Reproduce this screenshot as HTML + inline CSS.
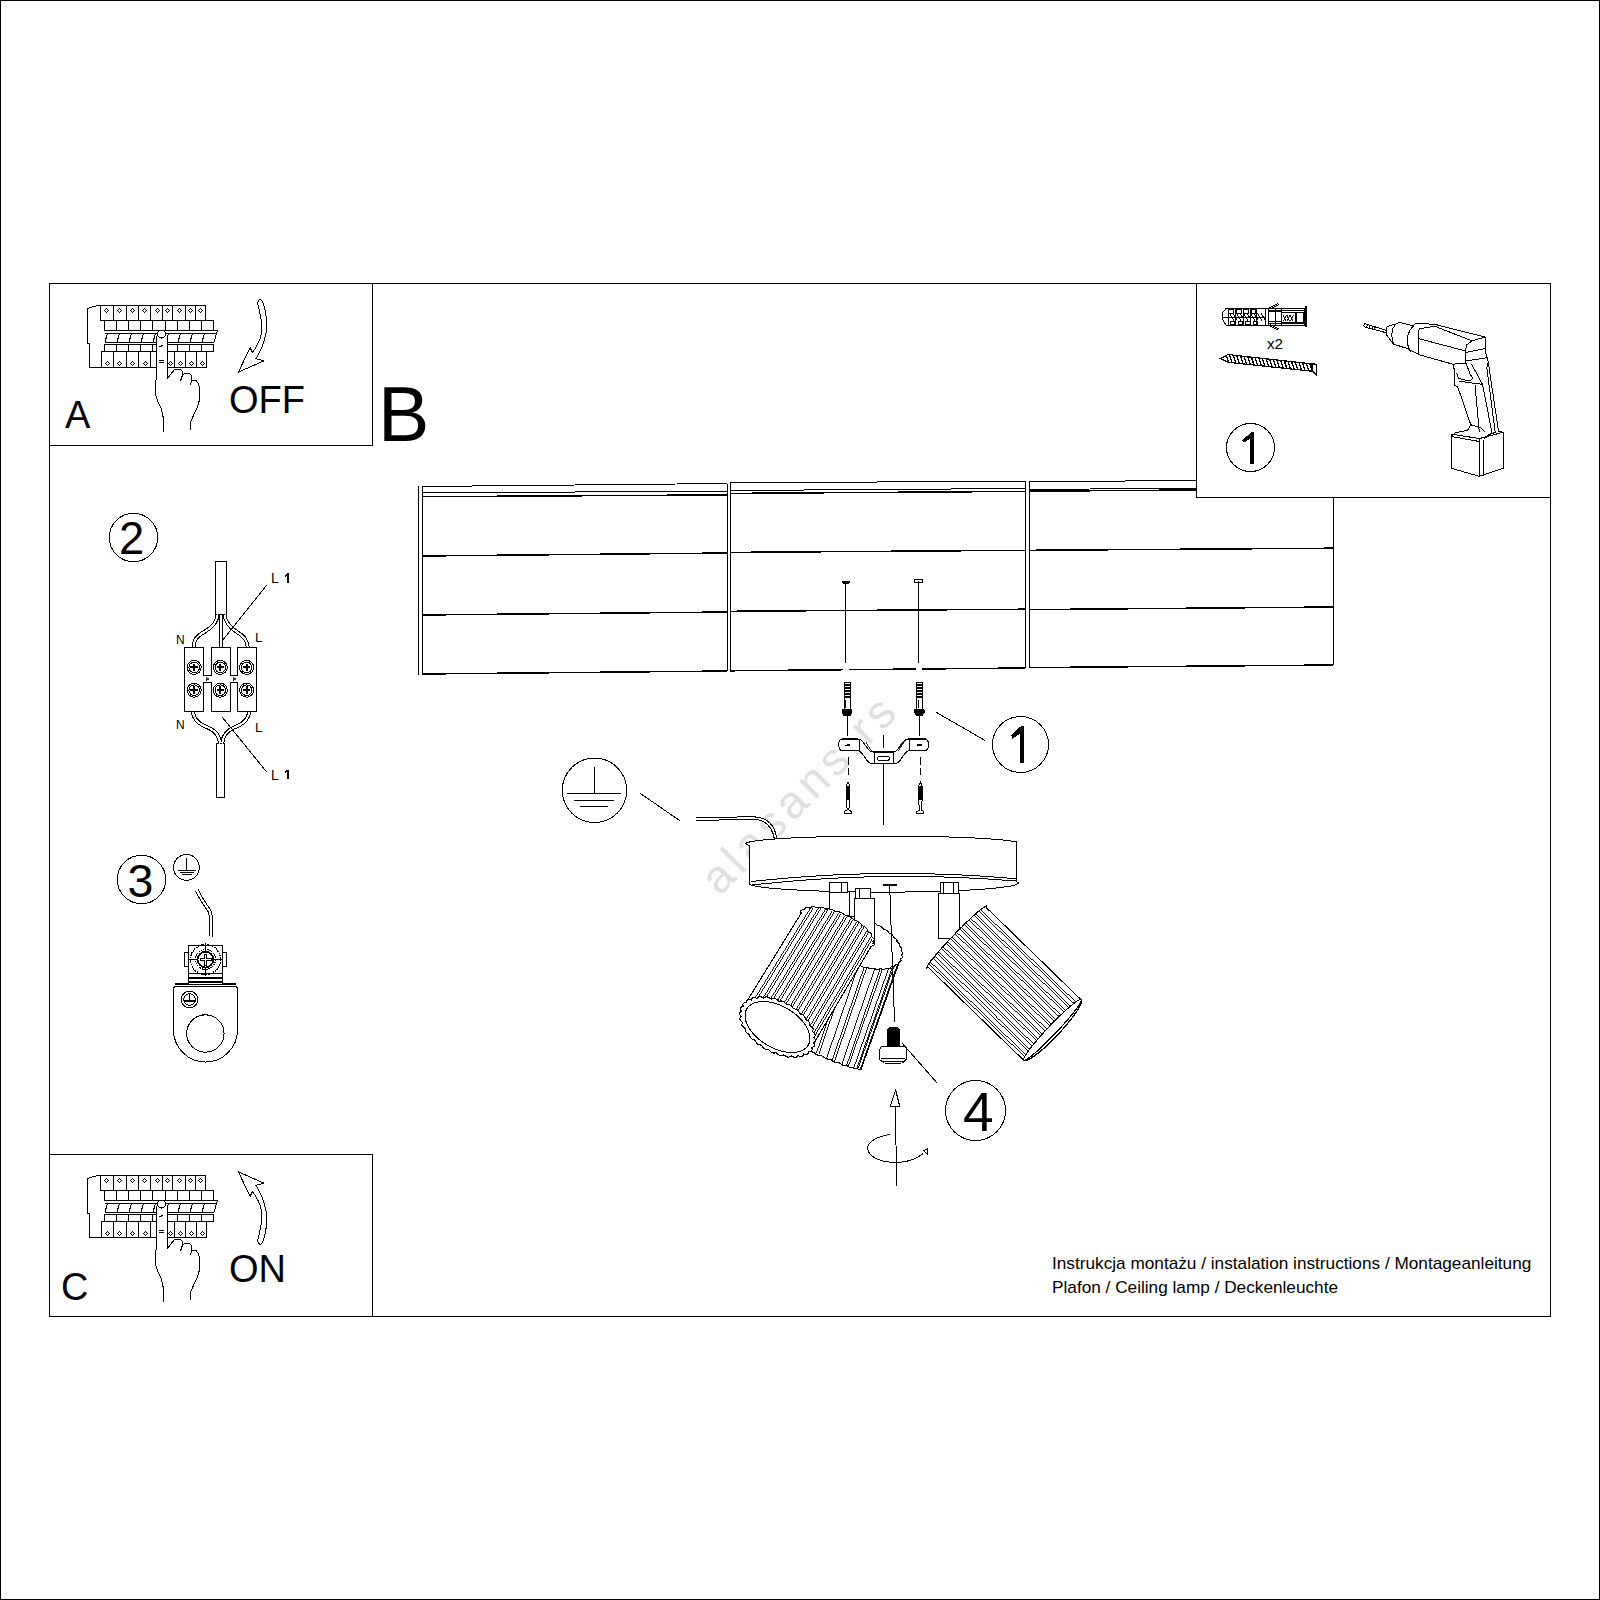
<!DOCTYPE html>
<html><head><meta charset="utf-8"><title>Instrukcja montażu / installation instructions</title>
<style>
html,body{margin:0;padding:0;background:#fff;}
body{width:1600px;height:1600px;overflow:hidden;}
svg{display:block;font-family:"Liberation Sans",sans-serif;}
</style></head>
<body>
<svg width="1600" height="1600" viewBox="0 0 1600 1600" shape-rendering="crispEdges">
<rect x="0" y="0" width="1600" height="1600" fill="#fff"/>
<text x="0" y="0" font-size="46" fill="#e0e0e0" letter-spacing="5" transform="translate(719.7,896.8) rotate(-45.4)">alasans.rs</text>
<g fill="none" stroke="#000" stroke-width="1">
<rect x="0.5" y="0.5" width="1599" height="1599"/>
<rect x="49.5" y="283.5" width="1501" height="1033"/>
<rect x="49.5" y="283.5" width="323" height="162"/>
<rect x="49.5" y="1154.5" width="323" height="162"/>
<rect x="1196.5" y="283.5" width="354" height="214"/>
</g>
<g fill="none" stroke="#000" stroke-width="1">
<line x1="422.5" y1="486.5" x2="727.5" y2="483.5"/>
<line x1="422.5" y1="493" x2="727.5" y2="491"/>
<line x1="422.5" y1="496.7" x2="727.5" y2="494.9" stroke-width="1.5"/>
<line x1="422.5" y1="556" x2="727.5" y2="553" stroke-width="1.5"/>
<line x1="422.5" y1="615" x2="727.5" y2="612" stroke-width="1.5"/>
<line x1="422.5" y1="674" x2="727.5" y2="671" stroke-width="1.5"/>
<line x1="422.5" y1="486.5" x2="422.5" y2="674"/>
<line x1="727.5" y1="483.5" x2="727.5" y2="671"/>
<line x1="730.5" y1="483" x2="1025.5" y2="481"/>
<line x1="730.5" y1="490.5" x2="1025.5" y2="488.5"/>
<line x1="730.5" y1="493.4" x2="1025.5" y2="491.4" stroke-width="1.5"/>
<line x1="730.5" y1="552.4" x2="1025.5" y2="550.3" stroke-width="1.5"/>
<line x1="730.5" y1="611.3" x2="1025.5" y2="609.2" stroke-width="1.5"/>
<line x1="730.5" y1="670.8" x2="1025.5" y2="668" stroke-width="1.5"/>
<line x1="730.5" y1="483" x2="730.5" y2="670.8"/>
<line x1="1025.5" y1="481" x2="1025.5" y2="668"/>
<line x1="1029.5" y1="481.7" x2="1333.5" y2="479.5"/>
<line x1="1029.5" y1="489.5" x2="1333.5" y2="487"/>
<line x1="1029.5" y1="491.2" x2="1333.5" y2="489" stroke-width="1.5"/>
<line x1="1029.5" y1="550.3" x2="1333.5" y2="548.2" stroke-width="1.5"/>
<line x1="1029.5" y1="609.6" x2="1333.5" y2="607" stroke-width="1.5"/>
<line x1="1029.5" y1="667.6" x2="1333.5" y2="665" stroke-width="1.5"/>
<line x1="1029.5" y1="481.7" x2="1029.5" y2="667.6"/>
<line x1="1333.5" y1="479.5" x2="1333.5" y2="665"/>
<line x1="418.5" y1="486" x2="418.5" y2="675"/>
<rect x="842.5" y="665" width="6" height="8" fill="#fff" stroke="none"/>
<rect x="915.5" y="664" width="6.5" height="8" fill="#fff" stroke="none"/>
<line x1="845.8" y1="582" x2="845.8" y2="663.4"/>
<line x1="918.7" y1="581" x2="918.7" y2="663"/>
<polygon points="842,581 850,581 849,583 843,583" fill="#000"/>
<rect x="914.5" y="579.8" width="8" height="2.2"/>
</g>
<rect x="1196.5" y="283.5" width="354" height="214" fill="#fff" stroke="#000"/>
<g fill="none" stroke="#000" stroke-width="1">
<polygon points="1226,308.5 1304.5,308.5 1304.5,325 1226,325 1222.8,320 1222.8,312.5" fill="#fff"/>
<line x1="1222.8" y1="317" x2="1266" y2="317"/>
<line x1="1228.8" y1="308.5" x2="1228.8" y2="325"/>
<line x1="1235.6" y1="308.5" x2="1235.6" y2="325"/>
<line x1="1243.2" y1="308.5" x2="1243.2" y2="325"/>
<line x1="1250.8" y1="308.5" x2="1250.8" y2="325"/>
<line x1="1256.3" y1="308.5" x2="1256.3" y2="325"/>
<line x1="1265.2" y1="308.5" x2="1265.2" y2="325"/>
<line x1="1268" y1="308.5" x2="1268" y2="325"/>
<line x1="1275.5" y1="308.5" x2="1275.5" y2="325"/>
<line x1="1281" y1="308.5" x2="1281" y2="325"/>
<rect x="1228.8" y="309.5" width="4.2" height="3.5"/>
<rect x="1230.8" y="321" width="3.7" height="3"/>
<rect x="1236" y="309.5" width="5" height="3.5"/>
<rect x="1238" y="321" width="4.5" height="3"/>
<rect x="1243.5" y="309.5" width="5" height="3.5"/>
<rect x="1245.5" y="321" width="4.5" height="3"/>
<rect x="1251" y="309.5" width="4.5" height="3.5"/>
<rect x="1253" y="321" width="4" height="3"/>
<line x1="1229.5" y1="313.5" x2="1234" y2="320.5"/>
<line x1="1233" y1="313.5" x2="1237.5" y2="320.5"/>
<line x1="1236.5" y1="313.5" x2="1241" y2="320.5"/>
<line x1="1240" y1="313.5" x2="1244.5" y2="320.5"/>
<line x1="1243.5" y1="313.5" x2="1248" y2="320.5"/>
<line x1="1247" y1="313.5" x2="1251.5" y2="320.5"/>
<line x1="1250.5" y1="313.5" x2="1255" y2="320.5"/>
<line x1="1254" y1="313.5" x2="1258.5" y2="320.5"/>
<line x1="1257.5" y1="313.5" x2="1262" y2="320.5"/>
<line x1="1261" y1="313.5" x2="1265.5" y2="320.5"/>
<line x1="1268" y1="310.3" x2="1304.5" y2="310.3"/>
<line x1="1268" y1="323.3" x2="1304.5" y2="323.3"/>
<line x1="1268" y1="311.8" x2="1281" y2="311.8"/>
<line x1="1268" y1="321.8" x2="1281" y2="321.8"/>
<rect x="1281.5" y="312.5" width="14.5" height="10" stroke-width="1.3"/>
<line x1="1283.5" y1="314.5" x2="1286" y2="320.5" stroke-width="0.9"/>
<line x1="1286" y1="314.5" x2="1283.5" y2="320.5" stroke-width="0.9"/>
<line x1="1287" y1="314.5" x2="1289.5" y2="320.5" stroke-width="0.9"/>
<line x1="1289.5" y1="314.5" x2="1287" y2="320.5" stroke-width="0.9"/>
<line x1="1290.5" y1="314.5" x2="1293" y2="320.5" stroke-width="0.9"/>
<line x1="1293" y1="314.5" x2="1290.5" y2="320.5" stroke-width="0.9"/>
<rect x="1296" y="312" width="7" height="10.5"/>
<line x1="1305.5" y1="306.3" x2="1305.5" y2="326.8" stroke-width="2"/>
<line x1="1268" y1="308.5" x2="1278" y2="303.5" stroke-width="1.2"/>
<line x1="1270" y1="309" x2="1279" y2="304.5"/>
<line x1="1268" y1="325" x2="1278" y2="330" stroke-width="1.2"/>
<line x1="1270" y1="324.5" x2="1279" y2="329"/>
<polygon points="1220.5,358.6 1228,354.5 1313,364 1316.4,364.2 1316.4,374.8 1313,371.3 1228,362.3" stroke-width="1.2"/>
<line x1="1226" y1="354.69" x2="1228.3" y2="361.89" stroke-width="1.3"/>
<line x1="1229.65" y1="355.1" x2="1231.95" y2="362.28" stroke-width="1.3"/>
<line x1="1233.3" y1="355.5" x2="1235.6" y2="362.67" stroke-width="1.3"/>
<line x1="1236.95" y1="355.91" x2="1239.25" y2="363.05" stroke-width="1.3"/>
<line x1="1240.6" y1="356.32" x2="1242.9" y2="363.44" stroke-width="1.3"/>
<line x1="1244.25" y1="356.73" x2="1246.55" y2="363.83" stroke-width="1.3"/>
<line x1="1247.9" y1="357.14" x2="1250.2" y2="364.21" stroke-width="1.3"/>
<line x1="1251.55" y1="357.54" x2="1253.85" y2="364.6" stroke-width="1.3"/>
<line x1="1255.2" y1="357.95" x2="1257.5" y2="364.99" stroke-width="1.3"/>
<line x1="1258.85" y1="358.36" x2="1261.15" y2="365.37" stroke-width="1.3"/>
<line x1="1262.5" y1="358.77" x2="1264.8" y2="365.76" stroke-width="1.3"/>
<line x1="1266.15" y1="359.18" x2="1268.45" y2="366.15" stroke-width="1.3"/>
<line x1="1269.8" y1="359.58" x2="1272.1" y2="366.53" stroke-width="1.3"/>
<line x1="1273.45" y1="359.99" x2="1275.75" y2="366.92" stroke-width="1.3"/>
<line x1="1277.1" y1="360.4" x2="1279.4" y2="367.3" stroke-width="1.3"/>
<line x1="1280.75" y1="360.81" x2="1283.05" y2="367.69" stroke-width="1.3"/>
<line x1="1284.4" y1="361.22" x2="1286.7" y2="368.08" stroke-width="1.3"/>
<line x1="1288.05" y1="361.62" x2="1290.35" y2="368.46" stroke-width="1.3"/>
<line x1="1291.7" y1="362.03" x2="1294" y2="368.85" stroke-width="1.3"/>
<line x1="1295.35" y1="362.44" x2="1297.65" y2="369.24" stroke-width="1.3"/>
<line x1="1299" y1="362.85" x2="1301.3" y2="369.62" stroke-width="1.3"/>
<line x1="1302.65" y1="363.25" x2="1304.95" y2="370.01" stroke-width="1.3"/>
<line x1="1306.3" y1="363.66" x2="1308.6" y2="370.4" stroke-width="1.3"/>
<line x1="1309.95" y1="364.07" x2="1312.25" y2="370.78" stroke-width="1.3"/>
<line x1="1312" y1="364" x2="1312" y2="371.3" stroke-width="1.4"/>
<polyline points="1364.6,323.5 1385.8,330.3"/>
<polyline points="1364.6,327 1385.8,332.6"/>
<polyline points="1364.6,323.5 1363.8,325.2 1364.6,327"/>
<polyline points="1367.2,324.2 1366.8,327.6"/>
<polyline points="1369.8,325 1369.4,328.3"/>
<polyline points="1372.4,325.8 1372,329"/>
<polyline points="1375,326.6 1374.6,329.7"/>
<polyline points="1386.9,327.2 1386.9,335.5"/>
<polyline points="1386.9,327.2 1390,325.4 1395.4,324.2 1399.6,322.3 1413.4,326"/>
<polyline points="1386.9,335.5 1390.5,340 1393.3,344 1408.1,348.8"/>
<polyline points="1395.4,324.6 1392.6,329 1391.7,335.5 1393.3,344"/>
<polyline points="1415.6,323.3 1410,330 1407.1,337.6 1407.8,345 1410.3,352"/>
<polyline points="1415.6,323.3 1434.7,324.3 1485.2,337.1"/>
<polyline points="1418.8,330.7 1420,328.6 1434.7,326.2 1471.9,340.8 1485.2,337.1"/>
<polyline points="1418.8,330.7 1418.8,354.6"/>
<polyline points="1418.8,338.7 1465.5,350.9"/>
<polyline points="1408.1,348.8 1418.8,354.6"/>
<polyline points="1418.8,354.6 1452.8,364.2 1465.5,363.1"/>
<polyline points="1471.9,340.8 1466.6,345 1465.5,350.9 1465.5,363.1"/>
<polyline points="1485.2,337.1 1485.2,351.4 1488.4,362.1"/>
<polyline points="1465.5,352.5 1485.2,348.5"/>
<polyline points="1466,361 1488.4,357.5"/>
<polyline points="1452.8,364.2 1454.9,371.6 1454.9,385.5 1457.6,386.5 1470.8,424.8 1467.6,430.1 1455,433 1451.2,436"/>
<polyline points="1456.5,373 1458.8,378.5 1469.8,381 1472.8,378"/>
<polyline points="1466,363.1 1470.5,375 1472.8,378"/>
<polyline points="1459.1,381.2 1482.5,384.4"/>
<polyline points="1471.5,364 1482.5,384.4"/>
<polyline points="1475.1,385.5 1479.3,432.2"/>
<polyline points="1482.5,384.4 1492.1,433.3"/>
<polyline points="1488.4,362.1 1486.8,367.4 1495.3,433.3"/>
<polyline points="1488.4,362.1 1489,367.4 1498.5,431.1 1503.2,432.2"/>
<polyline points="1451.2,436 1451.2,468.3 1479.3,476.3 1503.2,468.3 1503.2,432.2"/>
<polyline points="1451.2,434 1479.3,438.6 1503.2,432.2"/>
<polyline points="1451.2,436.5 1479.3,441.5"/>
<polyline points="1479.3,438.6 1479.3,476.3"/>
<polyline points="1483.6,439.6 1483.6,475.5"/>
<polyline points="1483.6,439.6 1489,434.5 1495,432.5"/>
<polyline points="1470.8,424.8 1480,427.3 1485,432"/>
</g>
<g id="panel" fill="none" stroke="#000" stroke-width="1">
<polyline points="100.5,305.5 98.5,305.5 90,307.5 87.5,308.5 87.5,343 89.5,344 89.5,367.5 101.5,367.5"/>
<rect x="100.5" y="305.5" width="105" height="14.5"/>
<line x1="113.5" y1="305.5" x2="113.5" y2="320"/>
<line x1="126.5" y1="305.5" x2="126.5" y2="320"/>
<line x1="138.5" y1="305.5" x2="138.5" y2="320"/>
<line x1="150.5" y1="305.5" x2="150.5" y2="320"/>
<line x1="162.5" y1="305.5" x2="162.5" y2="320"/>
<line x1="172.5" y1="305.5" x2="172.5" y2="320"/>
<line x1="185.5" y1="305.5" x2="185.5" y2="320"/>
<line x1="195.5" y1="305.5" x2="195.5" y2="320"/>
<polygon points="106.5,308.5 108.5,310.5 106.5,312.5 104.5,310.5"/>
<polygon points="119.5,308.5 121.5,310.5 119.5,312.5 117.5,310.5"/>
<polygon points="132.5,308.5 134.5,310.5 132.5,312.5 130.5,310.5"/>
<polygon points="144.5,308.5 146.5,310.5 144.5,312.5 142.5,310.5"/>
<polygon points="157.5,308.5 159.5,310.5 157.5,312.5 155.5,310.5"/>
<polygon points="167.5,308.5 169.5,310.5 167.5,312.5 165.5,310.5"/>
<polygon points="179.5,308.5 181.5,310.5 179.5,312.5 177.5,310.5"/>
<polygon points="190.5,308.5 192.5,310.5 190.5,312.5 188.5,310.5"/>
<polygon points="200.5,308.5 202.5,310.5 200.5,312.5 198.5,310.5"/>
<rect x="104.5" y="320" width="109" height="10.5"/>
<line x1="116.5" y1="320" x2="116.5" y2="330.5"/>
<line x1="128.5" y1="320" x2="128.5" y2="330.5"/>
<line x1="140.5" y1="320" x2="140.5" y2="330.5"/>
<line x1="152.5" y1="320" x2="152.5" y2="330.5"/>
<line x1="165.5" y1="320" x2="165.5" y2="330.5"/>
<line x1="177.5" y1="320" x2="177.5" y2="330.5"/>
<line x1="189.5" y1="320" x2="189.5" y2="330.5"/>
<line x1="201.5" y1="320" x2="201.5" y2="330.5"/>
<polyline points="104.5,330.5 217.5,330.5 214,342 104.5,342"/>
<line x1="104.5" y1="333.5" x2="217" y2="333.5"/>
<line x1="105" y1="342" x2="107.5" y2="333.5"/>
<line x1="117" y1="342" x2="119.5" y2="333.5"/>
<line x1="129" y1="342" x2="131.5" y2="333.5"/>
<line x1="141" y1="342" x2="143.5" y2="333.5"/>
<line x1="153" y1="342" x2="155.5" y2="333.5"/>
<line x1="166" y1="342" x2="168.5" y2="333.5"/>
<line x1="178" y1="342" x2="180.5" y2="333.5"/>
<line x1="190" y1="342" x2="192.5" y2="333.5"/>
<line x1="202" y1="342" x2="204.5" y2="333.5"/>
<line x1="104.5" y1="344.5" x2="213.5" y2="344.5"/>
<rect x="104.5" y="344.5" width="109" height="6.5"/>
<line x1="116.5" y1="344.5" x2="116.5" y2="351"/>
<line x1="128.5" y1="344.5" x2="128.5" y2="351"/>
<line x1="140.5" y1="344.5" x2="140.5" y2="351"/>
<line x1="152.5" y1="344.5" x2="152.5" y2="351"/>
<line x1="165.5" y1="344.5" x2="165.5" y2="351"/>
<line x1="177.5" y1="344.5" x2="177.5" y2="351"/>
<line x1="189.5" y1="344.5" x2="189.5" y2="351"/>
<line x1="201.5" y1="344.5" x2="201.5" y2="351"/>
<rect x="101.5" y="351" width="105" height="16.5"/>
<line x1="113.5" y1="351" x2="113.5" y2="367.5"/>
<line x1="126.5" y1="351" x2="126.5" y2="367.5"/>
<line x1="138.5" y1="351" x2="138.5" y2="367.5"/>
<line x1="150.5" y1="351" x2="150.5" y2="367.5"/>
<line x1="167.5" y1="351" x2="167.5" y2="367.5"/>
<line x1="174.5" y1="351" x2="174.5" y2="367.5"/>
<line x1="185.5" y1="351" x2="185.5" y2="367.5"/>
<line x1="196.5" y1="351" x2="196.5" y2="367.5"/>
<polygon points="107.5,361.5 109.5,363.5 107.5,365.5 105.5,363.5"/>
<polygon points="119.5,361.5 121.5,363.5 119.5,365.5 117.5,363.5"/>
<polygon points="132.5,361.5 134.5,363.5 132.5,365.5 130.5,363.5"/>
<polygon points="145.5,361.5 147.5,363.5 145.5,365.5 143.5,363.5"/>
<polygon points="170.5,361.5 172.5,363.5 170.5,365.5 168.5,363.5"/>
<polygon points="180.5,361.5 182.5,363.5 180.5,365.5 178.5,363.5"/>
<polygon points="191.5,361.5 193.5,363.5 191.5,365.5 189.5,363.5"/>
<polygon points="202.5,361.5 204.5,363.5 202.5,365.5 200.5,363.5"/>
<path d="M156.5,336 L156.5,379 L155.5,381 L155.5,394 L158,402 L161.5,409 L163.5,419 L163.5,432 L190.5,432 L190,428 L192.5,418 L197,408 L199.5,400 L199.5,388 L198.5,383.5 L196,380.5 L192,380 L191.5,375.5 L189,373 L185,373 L182.5,375 L182,371 L180,369 L175,369 L170.5,374 L167,379 L167,336 Z" fill="#fff" stroke="none"/>
<path d="M156.5,336 L156.5,379 L155.5,381 L155.5,394 L158,402 L161.5,409 L163.5,419 L163.5,432"/>
<path d="M167,336 L167,379 L170.5,374.5 L175,369 L180,369 L182,371 L182.5,375 L180.5,381"/>
<path d="M182.5,375.5 L185,373 L189,373 L191.5,375.5 L191.5,381 L190.5,385.5"/>
<path d="M192,380.5 L196,380.5 L198.5,383.5 L199.5,388 L199.5,400 L197,408 L192.5,417.5 L190,424 L190.5,430"/>
<circle cx="161.5" cy="334" r="4" fill="#fff"/>
<line x1="159.5" y1="346.5" x2="163.5" y2="345.5"/>
<line x1="158.5" y1="360.5" x2="163.5" y2="360.5"/>
<line x1="158.5" y1="362.5" x2="163.5" y2="362.5"/>
</g>
<path d="M260.4,299.6 C257.3,300 257.6,303.2 258.1,305.7 C260.8,315.5 262.4,325.5 261.5,333 C260.3,341 256.5,347 252.3,352.6 L250.2,347.4 L238.4,372.1 L263.7,360.9 L256,358.6 C260.2,352 264.2,343.5 266,333 C267.4,322 266,310.5 262.6,301.6 C262,300.2 261.4,299.6 260.4,299.6 Z" fill="none" stroke="#000" stroke-width="1"/>
<use href="#panel" transform="translate(0,870)"/>
<path d="M260.4,299.6 C257.3,300 257.6,303.2 258.1,305.7 C260.8,315.5 262.4,325.5 261.5,333 C260.3,341 256.5,347 252.3,352.6 L250.2,347.4 L238.4,372.1 L263.7,360.9 L256,358.6 C260.2,352 264.2,343.5 266,333 C267.4,322 266,310.5 262.6,301.6 C262,300.2 261.4,299.6 260.4,299.6 Z" fill="none" stroke="#000" stroke-width="1" transform="translate(0,1544) scale(1,-1)"/>
<g fill="#000">
<text x="65" y="428" font-size="38">A</text>
<text x="229" y="413" font-size="38">OFF</text>
<text x="378" y="441" font-size="77">B</text>
<text x="61" y="1300" font-size="38">C</text>
<text x="229" y="1282" font-size="38">ON</text>
<text x="119" y="554" font-size="45.4">2</text>
<text x="127.5" y="896.5" font-size="46.5">3</text>
<text x="963" y="1131" font-size="55">4</text>
<text x="1267" y="349" font-size="15.2">x2</text>
<text x="176" y="644" font-size="12">N</text>
<text x="255" y="642" font-size="13.5">L</text>
<text x="271" y="583" font-size="13.8">L</text>
<path d="M284.8,575.5 L287.3,573.2 L288.5,573.2 L288.5,582.8 L287.2,582.8 L287.2,575.3 L285.3,576.7 Z"/>
<text x="176" y="728.6" font-size="12">N</text>
<text x="255" y="731.8" font-size="13.5">L</text>
<text x="271" y="779.6" font-size="13.8">L</text>
<path d="M284.8,771.8 L287.3,769.5 L288.5,769.5 L288.5,779.1 L287.2,779.1 L287.2,771.6 L285.3,773 Z"/>
<text x="0" y="0" font-size="15.8" transform="translate(1052,1269) scale(1.09,1)">Instrukcja montażu / instalation instructions / Montageanleitung</text>
<text x="0" y="0" font-size="15.8" transform="translate(1052,1292.6) scale(1.09,1)">Plafon / Ceiling lamp / Deckenleuchte</text>
<path d="M1242,440.5 L1251.5,432 L1254,432 L1254,463.8 L1250,463.8 L1250,438.8 L1244,442.8 Z"/>
<path d="M1011,735.4 L1021.1,726 L1024,726 L1024,763 L1020,763 L1020,733.9 L1012.5,738.7 Z"/>
</g>
<g fill="none" stroke="#000" stroke-width="1">
<circle cx="1250.5" cy="447.5" r="24"/>
<circle cx="133.5" cy="537.5" r="24.2"/>
<circle cx="141.5" cy="879.5" r="24.2"/>
<circle cx="1020.5" cy="744.5" r="28"/>
<circle cx="975.5" cy="1110.5" r="30"/>
</g>
<g fill="none" stroke="#000" stroke-width="1">
<rect x="215.5" y="561.5" width="11" height="53"/>
<rect x="216.5" y="743.5" width="8" height="54"/>
<path d="M217.6,614.5 C217,622 213,627 205,631.5 C197,636 193.5,640 193.8,647.5" stroke-width="4"/>
<path d="M224.6,614.5 C225.2,622 229,627 237,632 C245,636.5 247.6,641 247.7,647.5" stroke-width="4"/>
<path d="M221,614.5 L221,647.5" stroke-width="4"/>
<path d="M192.9,711.5 C194,720 199,724 208,727.5 C216,731 219.5,736 220.2,743.5" stroke-width="4"/>
<path d="M249.3,711.5 C248,720 243,724 234,727.5 C226,731 222.8,736 222.3,743.5" stroke-width="4"/>
<path d="M217.6,614.5 C217,622 213,627 205,631.5 C197,636 193.5,640 193.8,647.5" stroke="#fff" stroke-width="2"/>
<path d="M224.6,614.5 C225.2,622 229,627 237,632 C245,636.5 247.6,641 247.7,647.5" stroke="#fff" stroke-width="2"/>
<path d="M221,614.5 L221,647.5" stroke="#fff" stroke-width="2"/>
<path d="M192.9,711.5 C194,720 199,724 208,727.5 C216,731 219.5,736 220.2,743.5" stroke="#fff" stroke-width="2"/>
<path d="M249.3,711.5 C248,720 243,724 234,727.5 C226,731 222.8,736 222.3,743.5" stroke="#fff" stroke-width="2"/>
<line x1="266.9" y1="584.9" x2="223.1" y2="639.6"/>
<line x1="222.1" y1="717" x2="266.8" y2="772.2"/>
<rect x="184.5" y="647.5" width="19" height="64" fill="#fff"/>
<rect x="211.5" y="647.5" width="19" height="64" fill="#fff"/>
<rect x="237.5" y="647.5" width="19" height="64" fill="#fff"/>
<rect x="202.8" y="676" width="9.4" height="6" fill="#fff" stroke="none"/>
<line x1="203.5" y1="675.5" x2="211.5" y2="675.5"/>
<line x1="203.5" y1="682.5" x2="211.5" y2="682.5"/>
<polygon points="206,677.5 208.5,679 206,680.5" stroke-width="0.8"/>
<rect x="229.8" y="676" width="8.4" height="6" fill="#fff" stroke="none"/>
<line x1="230.5" y1="675.5" x2="237.5" y2="675.5"/>
<line x1="230.5" y1="682.5" x2="237.5" y2="682.5"/>
<polygon points="233,677.5 235.5,679 233,680.5" stroke-width="0.8"/>
<circle cx="194.2" cy="667.4" r="7"/>
<circle cx="194.2" cy="667.4" r="5.3"/>
<line x1="190.4" y1="667.4" x2="198" y2="667.4" stroke-width="2"/>
<line x1="194.2" y1="663.6" x2="194.2" y2="671.2" stroke-width="2"/>
<circle cx="220.3" cy="667.4" r="7"/>
<circle cx="220.3" cy="667.4" r="5.3"/>
<line x1="216.5" y1="667.4" x2="224.1" y2="667.4" stroke-width="2"/>
<line x1="220.3" y1="663.6" x2="220.3" y2="671.2" stroke-width="2"/>
<circle cx="246.6" cy="667.4" r="7"/>
<circle cx="246.6" cy="667.4" r="5.3"/>
<line x1="242.8" y1="667.4" x2="250.4" y2="667.4" stroke-width="2"/>
<line x1="246.6" y1="663.6" x2="246.6" y2="671.2" stroke-width="2"/>
<circle cx="194.2" cy="690.2" r="7"/>
<circle cx="194.2" cy="690.2" r="5.3"/>
<line x1="190.4" y1="690.2" x2="198" y2="690.2" stroke-width="2"/>
<line x1="194.2" y1="686.4" x2="194.2" y2="694" stroke-width="2"/>
<circle cx="220.3" cy="690.2" r="7"/>
<circle cx="220.3" cy="690.2" r="5.3"/>
<line x1="216.5" y1="690.2" x2="224.1" y2="690.2" stroke-width="2"/>
<line x1="220.3" y1="686.4" x2="220.3" y2="694" stroke-width="2"/>
<circle cx="246.6" cy="690.2" r="7"/>
<circle cx="246.6" cy="690.2" r="5.3"/>
<line x1="242.8" y1="690.2" x2="250.4" y2="690.2" stroke-width="2"/>
<line x1="246.6" y1="686.4" x2="246.6" y2="694" stroke-width="2"/>
</g>
<g fill="none" stroke="#000" stroke-width="1">
<circle cx="186.4" cy="867.4" r="12.9"/>
<line x1="186.5" y1="858" x2="186.5" y2="870.75"/>
<line x1="177.7" y1="870.75" x2="196" y2="870.75"/>
<line x1="179.5" y1="872.75" x2="193.75" y2="872.75"/>
<line x1="181.75" y1="874.8" x2="191.5" y2="874.8"/>
<path d="M196.7,890.2 C201,899 206,906 209.5,911 C211.5,915 211.5,925 211.4,936.5" stroke-width="4"/>
<path d="M196.7,890.2 C201,899 206,906 209.5,911 C211.5,915 211.5,925 211.4,936.5" stroke="#fff" stroke-width="2"/>
<path d="M173.5,989.5 Q173.5,986.5 176,986.5 L235,986.5 Q237.5,986.5 237.5,989.5 L237.5,1030 A32,32 0 0 1 173.5,1030 Z"/>
<line x1="175" y1="984" x2="236" y2="984" stroke-width="1.5"/>
<circle cx="205.4" cy="1033.5" r="18.7"/>
<circle cx="189.5" cy="999.5" r="8.3"/>
<circle cx="189.5" cy="999.5" r="5.8"/>
<line x1="189.5" y1="993.5" x2="189.5" y2="1000.5"/>
<line x1="183.5" y1="1000.8" x2="195.5" y2="1000.8" stroke-width="1.6"/>
<rect x="184.5" y="952.5" width="4" height="14"/>
<rect x="222.5" y="952.5" width="4" height="14"/>
<rect x="188.5" y="945.5" width="34" height="38.5" fill="#fff"/>
<circle cx="205.5" cy="959.5" r="15" stroke-width="1.3" stroke-dasharray="1.6 0.8"/>
<circle cx="205.5" cy="959.5" r="10" stroke-width="1.2" stroke-dasharray="1.4 0.8"/>
<circle cx="205.5" cy="959.5" r="7.8" stroke-width="1.6"/>
<line x1="205.5" y1="943" x2="205.5" y2="976"/>
<line x1="189" y1="959.5" x2="222" y2="959.5"/>
<circle cx="205.5" cy="959.5" r="7" fill="#fff" stroke="none"/>
<polygon points="204.3,954 206.7,954 206.7,958.3 211,958.3 211,960.7 206.7,960.7 206.7,965 204.3,965 204.3,960.7 200,960.7 200,958.3 204.3,958.3"/>
<line x1="189" y1="973.5" x2="222" y2="973.5"/>
<line x1="189" y1="977.5" x2="222" y2="977.5" stroke-width="2"/>
<line x1="189" y1="981.8" x2="222" y2="981.8" stroke-width="1.4"/>
</g>
<g fill="none" stroke="#000" stroke-width="1">
<rect x="844" y="682" width="6" height="27"/>
<line x1="844" y1="685" x2="850" y2="685" stroke-width="1.6"/>
<line x1="844" y1="688" x2="850" y2="688" stroke-width="1.6"/>
<line x1="844" y1="691" x2="850" y2="691" stroke-width="1.6"/>
<line x1="844" y1="694" x2="850" y2="694" stroke-width="1.6"/>
<line x1="844" y1="697" x2="850" y2="697" stroke-width="1.6"/>
<line x1="845.8" y1="700" x2="845.8" y2="708"/>
<path d="M842.5,709 L851.5,709 L852,712 L850,715.5 L844,715.5 L842,712 Z" fill="#000"/>
<line x1="847.5" y1="715.5" x2="847.5" y2="735.5"/>
<line x1="848" y1="757" x2="848" y2="765"/>
<line x1="848.2" y1="767.5" x2="848.2" y2="775"/>
<path d="M848,782 L849.8,786 L849.8,800 L848.8,810 L851.5,811.5 L851.5,813 L844.5,813 L844.5,811.5 L847.2,810 L846.2,800 L846.2,786 Z" fill="#fff"/>
<rect x="846.2" y="786" width="3.6" height="14" fill="#000" stroke="none"/>
<rect x="916.3" y="682" width="6" height="27"/>
<line x1="916.3" y1="685" x2="922.3" y2="685" stroke-width="1.6"/>
<line x1="916.3" y1="688" x2="922.3" y2="688" stroke-width="1.6"/>
<line x1="916.3" y1="691" x2="922.3" y2="691" stroke-width="1.6"/>
<line x1="916.3" y1="694" x2="922.3" y2="694" stroke-width="1.6"/>
<line x1="916.3" y1="697" x2="922.3" y2="697" stroke-width="1.6"/>
<line x1="918.1" y1="700" x2="918.1" y2="708"/>
<path d="M914.8,709 L923.8,709 L924.3,712 L922.3,715.5 L916.3,715.5 L914.3,712 Z" fill="#000"/>
<line x1="919.8" y1="715.5" x2="919.8" y2="735.5"/>
<line x1="920.3" y1="757" x2="920.3" y2="765"/>
<line x1="920.5" y1="767.5" x2="920.5" y2="775"/>
<path d="M920.3,782 L922.0999999999999,786 L922.0999999999999,800 L921.0999999999999,810 L923.8,811.5 L923.8,813 L916.8,813 L916.8,811.5 L919.5,810 L918.5,800 L918.5,786 Z" fill="#fff"/>
<rect x="918.5" y="786" width="3.6" height="14" fill="#000" stroke="none"/>
<path d="M842,739 L858,739 Q861,739 863,742 L868.5,749.5 Q870.5,752 873,752 L893,752 Q896,752 897.5,749.5 L903.5,742 Q905.5,739 909,739 L925.5,739 Q928.5,740 928.5,744.5 Q928.5,750.5 925,750.5 L910,750.5 Q907,750.5 905,753.5 L899.5,761 Q897.5,763.5 895,763.5 L872,763.5 Q869.5,763.5 867.5,761 L862,753.5 Q860,750.5 857,750.5 L842,750.5 Q838.8,750.5 838.8,744.5 Q838.8,739 842,739 Z" fill="#fff" stroke-width="1.1"/>
<line x1="859" y1="739.5" x2="859" y2="750.5"/>
<line x1="909.5" y1="739.5" x2="909.5" y2="750.5"/>
<line x1="874" y1="752" x2="874" y2="763.5"/>
<line x1="893" y1="752" x2="893" y2="763.5"/>
<path d="M862.5,741 L869.5,751 M866,741.5 L872,750.5" stroke-width="0.8"/>
<path d="M905,741 L898,751 M902,741.5 L896,750.5" stroke-width="0.8"/>
<path d="M878.5,756.5 L888.5,756.5 Q891,758.3 888.5,760.2 L878.5,760.2 Q876,758.3 878.5,756.5 Z"/>
<line x1="845" y1="745.5" x2="850" y2="745" stroke-width="1.6"/>
<line x1="917" y1="745" x2="922" y2="745" stroke-width="1.8"/>
<line x1="883.5" y1="735" x2="883.5" y2="748"/>
<line x1="883.5" y1="763.5" x2="883.5" y2="824.5"/>
<line x1="936.2" y1="712.3" x2="985" y2="740.4"/>
</g>
<g fill="none" stroke="#000" stroke-width="1">
<circle cx="594.5" cy="790.3" r="32.2"/>
<line x1="594.5" y1="767.2" x2="594.5" y2="793.4"/>
<line x1="567.2" y1="793.4" x2="621" y2="793.4"/>
<line x1="574.2" y1="800.3" x2="614" y2="800.3"/>
<line x1="580" y1="806.3" x2="608" y2="806.3"/>
<line x1="640.3" y1="793.4" x2="679.7" y2="820.6"/>
<path d="M696,819.2 L752,818 C765,818 774,825 775.8,840.5" stroke-width="3.6"/>
<path d="M696,819.2 L752,818 C765,818 774,825 775.8,840.5" stroke="#fff" stroke-width="1.6"/>
</g>
<g fill="none" stroke="#000" stroke-width="1">
<path d="M749.5,845.5 A133.5,7.5 0 0 1 1016.5,842 L1016.5,881.5 A133.5,9 0 0 1 749.5,884.5 Z" fill="#fff"/>
<path d="M751,881.5 Q883.5,866.9 1016,878.7"/>
<path d="M752,885 Q883.5,870 1015.5,881"/>
</g>
<g fill="none" stroke="#000" stroke-width="1">
<rect x="829" y="882" width="18" height="10" fill="#fff"/>
<line x1="841.5" y1="882" x2="841.5" y2="892"/>
<path d="M829,892 L829,910 M849,892 L849,916"/>
<polygon points="900.65,958.15 900.33,958.96 899.95,959.74 899.51,960.5 899.01,961.23 898.46,961.93 897.84,962.6 897.18,963.24 896.46,963.84 895.68,964.42 894.86,964.96 893.98,965.46 893.05,965.93 892.08,966.37 891.06,966.77 889.99,967.13 888.89,967.45 887.74,967.73 886.55,967.98 885.32,968.18 884.06,968.35 882.76,968.47 881.43,968.56 880.07,968.6 878.68,968.61 877.27,968.57 875.84,968.5 874.38,968.38 872.9,968.23 871.41,968.03 869.9,967.8 868.38,967.53 866.85,967.22 865.31,966.87 863.77,966.48 862.22,966.05 860.68,965.59 859.14,965.1 857.6,964.57 856.06,964 854.54,963.4 853.03,962.77 851.53,962.11 850.05,961.42 848.59,960.7 847.14,959.95 845.72,959.17 844.33,958.37 842.96,957.54 841.62,956.69 840.32,955.82 839.04,954.93 837.81,954.02 836.6,953.09 835.44,952.14 834.32,951.18 833.25,950.21 832.21,949.23 831.22,948.23 830.28,947.22 829.39,946.21 828.55,945.2 827.76,944.17 827.03,943.15 826.34,942.12 825.72,941.1 825.14,940.08 824.63,939.06 824.17,938.04 823.77,937.04 823.43,936.04 823.15,935.05 822.93,934.07 822.77,933.11 822.67,932.16 822.63,931.23 822.66,930.31 822.74,929.41 822.88,928.54 823.08,927.68 823.35,926.85 784.69,1035.65 784.71,1035.82 784.78,1036.02 784.92,1036.25 785.11,1036.5 785.36,1036.77 785.67,1037.07 786.04,1037.39 786.46,1037.73 786.94,1038.09 787.48,1038.48 788.07,1038.88 788.72,1039.31 789.42,1039.75 790.17,1040.22 790.97,1040.7 791.82,1041.19 792.72,1041.71 793.67,1042.24 794.66,1042.78 795.7,1043.34 796.78,1043.91 797.89,1044.5 799.05,1045.09 800.25,1045.7 801.48,1046.31 802.74,1046.94 804.04,1047.57 805.36,1048.21 806.71,1048.85 808.09,1049.5 809.49,1050.15 810.91,1050.8 812.35,1051.46 813.81,1052.11 815.28,1052.77 816.76,1053.42 818.25,1054.08 819.75,1054.72 821.26,1055.37 822.77,1056.01 824.28,1056.64 825.78,1057.26 827.29,1057.88 828.78,1058.48 830.27,1059.08 831.75,1059.67 833.21,1060.24 834.66,1060.8 836.09,1061.35 837.5,1061.88 838.89,1062.39 840.25,1062.89 841.59,1063.38 842.9,1063.84 844.18,1064.29 845.42,1064.72 846.64,1065.12 847.81,1065.51 848.95,1065.88 850.05,1066.22 851.1,1066.54 852.11,1066.84 853.08,1067.12 854,1067.37 854.88,1067.6 855.7,1067.8 856.48,1067.98 857.2,1068.14 857.87,1068.26 858.49,1068.37 859.05,1068.45 859.56,1068.5 860.01,1068.53 860.41,1068.53 860.74,1068.51 861.02,1068.46 861.24,1068.38 861.41,1068.28 861.51,1068.15 861.55,1068" fill="#fff" stroke="none"/>
<line x1="898.26" y1="962.15" x2="860.64" y2="1068.52" stroke-width="0.9"/>
<line x1="894.28" y1="965.3" x2="858.09" y2="1068.3" stroke-width="0.9"/>
<line x1="892.8" y1="966.05" x2="857.01" y2="1068.1" stroke-width="0.9"/>
<line x1="888.89" y1="967.45" x2="854" y2="1067.37" stroke-width="0.9"/>
<line x1="882.32" y1="968.51" x2="848.57" y2="1065.76" stroke-width="0.9"/>
<line x1="880.16" y1="968.6" x2="846.72" y2="1065.15" stroke-width="0.9"/>
<line x1="874.87" y1="968.43" x2="842.03" y2="1063.53" stroke-width="0.9"/>
<line x1="866.85" y1="967.22" x2="834.66" y2="1060.8" stroke-width="0.9"/>
<line x1="864.39" y1="966.64" x2="832.34" y2="1059.9" stroke-width="0.9"/>
<line x1="858.62" y1="964.92" x2="826.79" y2="1057.67" stroke-width="0.9"/>
<line x1="850.54" y1="961.65" x2="818.75" y2="1054.29" stroke-width="0.9"/>
<line x1="848.2" y1="960.5" x2="816.36" y2="1053.25" stroke-width="0.9"/>
<line x1="842.96" y1="957.54" x2="810.91" y2="1050.8" stroke-width="0.9"/>
<line x1="836.21" y1="952.78" x2="803.6" y2="1047.36" stroke-width="0.9"/>
<line x1="834.4" y1="951.25" x2="801.56" y2="1046.35" stroke-width="0.9"/>
<line x1="830.59" y1="947.56" x2="797.14" y2="1044.11" stroke-width="0.9"/>
<line x1="826.34" y1="942.12" x2="791.82" y2="1041.19" stroke-width="0.9"/>
<line x1="825.37" y1="940.49" x2="790.48" y2="1040.41" stroke-width="0.9"/>
<line x1="823.65" y1="936.7" x2="787.87" y2="1038.75" stroke-width="0.9"/>
<line x1="822.64" y1="931.54" x2="785.46" y2="1036.87" stroke-width="0.9"/>
<line x1="822.67" y1="930.07" x2="785.05" y2="1036.43" stroke-width="0.9"/>
<line x1="900.65" y1="958.15" x2="861.55" y2="1068" stroke-width="1.1"/>
<line x1="823.35" y1="926.85" x2="784.69" y2="1035.65" stroke-width="1.1"/>
<polyline points="861.55,1068 861.3,1068.74 861.05,1069.28 860.84,1069.51 860.69,1069.39 860.58,1068.97 860.36,1068.66 859.77,1069.22 859.19,1069.56 858.66,1069.56 858.19,1069.22 857.75,1068.61 857.11,1068.4 856.2,1068.77 855.31,1068.9 854.49,1068.68 853.73,1068.13 853.01,1067.33 851.98,1067.23 850.79,1067.42 849.65,1067.34 848.58,1066.91 847.58,1066.17 846.6,1065.21 845.24,1065.22 843.84,1065.24 842.5,1064.97 841.24,1064.36 840.06,1063.44 838.87,1062.44 837.28,1062.5 835.73,1062.37 834.26,1061.92 832.89,1061.15 831.6,1060.09 830.21,1059.26 828.53,1059.21 826.91,1058.95 825.39,1058.37 823.98,1057.46 822.66,1056.31 821.15,1055.67 819.46,1055.55 817.86,1055.18 816.38,1054.49 815.02,1053.5 813.74,1052.29 812.2,1051.89 810.59,1051.71 809.09,1051.27 807.73,1050.52 806.49,1049.47 805.34,1048.25 803.84,1048.11 802.39,1047.92 801.08,1047.44 799.91,1046.65 798.87,1045.6 797.86,1044.59 796.54,1044.57 795.33,1044.38 794.26,1043.9 793.36,1043.12 792.59,1042.1 791.75,1041.41 790.7,1041.46 789.78,1041.3 789.03,1040.85 788.44,1040.1 787.98,1039.14 787.36,1038.82 786.64,1038.95 786.07,1038.84 785.66,1038.44 785.42,1037.76 785.31,1036.9 784.94,1036.97 784.58,1037.18 784.38,1037.15 784.35,1036.82 784.48,1036.23" stroke-width="1.1"/>
<polygon points="900.4,958.8 900.63,959.28 900.82,959.75 900.95,960.2 900.98,960.6 900.9,960.97 900.71,961.28 900.41,961.53 900.01,961.73 899.52,961.89 898.97,962 898.38,962.09 898.41,962.51 898.48,962.96 898.49,963.38 898.42,963.75 898.24,964.08 897.96,964.34 897.58,964.54 897.1,964.67 896.54,964.75 895.92,964.79 895.27,964.8 895.11,965.13 895.06,965.55 894.96,965.93 894.77,966.27 894.5,966.54 894.14,966.75 893.68,966.89 893.14,966.96 892.52,966.96 891.85,966.92 891.16,966.85 890.83,967.07 890.66,967.45 890.44,967.79 890.16,968.07 889.8,968.29 889.36,968.44 888.83,968.52 888.24,968.52 887.59,968.45 886.89,968.33 886.17,968.17 885.7,968.28 885.41,968.6 885.09,968.88 884.71,969.11 884.27,969.27 883.76,969.36 883.19,969.37 882.56,969.3 881.88,969.16 881.17,968.97 880.45,968.74 879.87,968.72 879.48,968.98 879.06,969.19 878.59,969.36 878.07,969.45 877.51,969.47 876.9,969.42 876.25,969.28 875.57,969.08 874.87,968.82 874.16,968.53 873.53,968.38 873.04,968.56 872.53,968.71 871.98,968.8 871.41,968.83 870.8,968.79 870.17,968.66 869.52,968.47 868.85,968.21 868.18,967.89 867.5,967.53 866.86,967.27 866.29,967.37 865.7,967.44 865.09,967.46 864.47,967.42 863.83,967.31 863.19,967.13 862.55,966.88 861.91,966.56 861.28,966.2 860.67,965.79 860.06,965.42 859.42,965.44 858.76,965.44 858.11,965.38 857.45,965.27 856.81,965.1 856.17,964.86 855.56,964.56 854.97,964.2 854.4,963.79 853.86,963.36 853.33,962.9 852.64,962.84 851.94,962.75 851.26,962.62 850.59,962.45 849.94,962.22 849.33,961.93 848.76,961.58 848.22,961.19 847.73,960.75 847.27,960.29 846.84,959.81 846.15,959.63 845.43,959.47 844.73,959.27 844.06,959.03 843.44,958.75 842.86,958.41 842.34,958.03 841.88,957.61 841.47,957.16 841.11,956.69 840.79,956.2 840.15,955.92 839.43,955.69 838.73,955.42 838.08,955.12 837.49,954.79 836.96,954.42 836.51,954.02 836.13,953.58 835.82,953.12 835.57,952.65 835.36,952.18 834.81,951.82 834.11,951.52 833.44,951.19 832.82,950.85 832.27,950.47 831.81,950.07 831.43,949.65 831.14,949.22 830.94,948.77 830.8,948.31 830.71,947.85 830.3,947.45 829.63,947.09 829,946.71 828.43,946.32 827.94,945.92 827.55,945.5 827.26,945.07 827.07,944.64 826.97,944.21 826.95,943.78 826.98,943.36 826.73,942.95 826.12,942.53 825.55,942.12 825.05,941.69 824.63,941.26 824.32,940.84 824.12,940.42 824.03,940 824.04,939.6 824.14,939.21 824.29,938.83 824.22,938.44 823.69,937.99 823.19,937.54 822.77,937.09 822.44,936.65 822.22,936.23 822.12,935.82 822.13,935.43 822.25,935.07 822.45,934.73 822.72,934.4 822.85,934.06 822.4,933.58 821.99,933.11 821.66,932.65 821.43,932.21 821.3,931.8 821.3,931.42 821.41,931.07 821.63,930.75 821.94,930.46 822.31,930.21 822.64,929.94 822.29,929.45 821.99,928.98 821.76,928.52 821.62,928.09 821.6,927.7 821.69,927.34 821.9,927.04 822.22,926.78 822.62,926.56 823.09,926.37 823.6,926.2 823.37,925.72 823.18,925.25 823.05,924.8 823.02,924.4 823.1,924.03 823.29,923.72 823.59,923.47 823.99,923.27 824.48,923.11 825.03,923 825.62,922.91 825.59,922.49 825.52,922.04 825.51,921.62 825.58,921.25 825.76,920.92 826.04,920.66 826.42,920.46 826.9,920.33 827.46,920.25 828.08,920.21 828.73,920.2 828.89,919.87 828.94,919.45 829.04,919.07 829.23,918.73 829.5,918.46 829.86,918.25 830.32,918.11 830.86,918.04 831.48,918.04 832.15,918.08 832.84,918.15 833.17,917.93 833.34,917.55 833.56,917.21 833.84,916.93 834.2,916.71 834.64,916.56 835.17,916.48 835.76,916.48 836.41,916.55 837.11,916.67 837.83,916.83 838.3,916.72 838.59,916.4 838.91,916.12 839.29,915.89 839.73,915.73 840.24,915.64 840.81,915.63 841.44,915.7 842.12,915.84 842.83,916.03 843.55,916.26 844.13,916.28 844.52,916.02 844.94,915.81 845.41,915.64 845.93,915.55 846.49,915.53 847.1,915.58 847.75,915.72 848.43,915.92 849.13,916.18 849.84,916.47 850.47,916.62 850.96,916.44 851.47,916.29 852.02,916.2 852.59,916.17 853.2,916.21 853.83,916.34 854.48,916.53 855.15,916.79 855.82,917.11 856.5,917.47 857.14,917.73 857.71,917.63 858.3,917.56 858.91,917.54 859.53,917.58 860.17,917.69 860.81,917.87 861.45,918.12 862.09,918.44 862.72,918.8 863.33,919.21 863.94,919.58 864.58,919.56 865.24,919.56 865.89,919.62 866.55,919.73 867.19,919.9 867.83,920.14 868.44,920.44 869.03,920.8 869.6,921.21 870.14,921.64 870.67,922.1 871.36,922.16 872.06,922.25 872.74,922.38 873.41,922.55 874.06,922.78 874.67,923.07 875.24,923.42 875.78,923.81 876.27,924.25 876.73,924.71 877.16,925.19 877.85,925.37 878.57,925.53 879.27,925.73 879.94,925.97 880.56,926.25 881.14,926.59 881.66,926.97 882.12,927.39 882.53,927.84 882.89,928.31 883.21,928.8 883.85,929.08 884.57,929.31 885.27,929.58 885.92,929.88 886.51,930.21 887.04,930.58 887.49,930.98 887.87,931.42 888.18,931.88 888.43,932.35 888.64,932.82 889.19,933.18 889.89,933.48 890.56,933.81 891.18,934.15 891.73,934.53 892.19,934.93 892.57,935.35 892.86,935.78 893.06,936.23 893.2,936.69 893.29,937.15 893.7,937.55 894.37,937.91 895,938.29 895.57,938.68 896.06,939.08 896.45,939.5 896.74,939.93 896.93,940.36 897.03,940.79 897.05,941.22 897.02,941.64 897.27,942.05 897.88,942.47 898.45,942.88 898.95,943.31 899.37,943.74 899.68,944.16 899.88,944.58 899.97,945 899.96,945.4 899.86,945.79 899.71,946.17 899.78,946.56 900.31,947.01 900.81,947.46 901.23,947.91 901.56,948.35 901.78,948.77 901.88,949.18 901.87,949.57 901.75,949.93 901.55,950.27 901.28,950.6 901.15,950.94 901.6,951.42 902.01,951.89 902.34,952.35 902.57,952.79 902.7,953.2 902.7,953.58 902.59,953.93 902.37,954.25 902.06,954.54 901.69,954.79 901.36,955.06 901.71,955.55 902.01,956.02 902.24,956.48 902.38,956.91 902.4,957.3 902.31,957.66 902.1,957.96 901.78,958.22 901.38,958.44 900.91,958.63 900.4,958.8" fill="#fff" stroke-width="1.1"/>
<rect x="855.5" y="888.5" width="15" height="9.5" fill="#fff"/>
<line x1="859" y1="888.5" x2="859" y2="898"/>
<rect x="854" y="898" width="20.5" height="45" fill="#fff"/>
<polygon points="871.65,945.6 872.22,944.45 872.58,943.21 872.71,941.88 872.62,940.48 872.3,939 871.77,937.47 871.02,935.88 870.05,934.26 868.88,932.6 867.51,930.93 865.94,929.24 864.2,927.55 862.28,925.88 860.21,924.23 857.99,922.6 855.64,921.02 853.17,919.49 850.59,918.02 847.93,916.62 845.2,915.3 842.42,914.06 839.59,912.92 836.75,911.88 833.91,910.95 831.09,910.13 828.29,909.43 825.55,908.85 822.88,908.39 820.29,908.07 817.8,907.87 815.42,907.81 813.18,907.88 811.08,908.09 809.13,908.42 807.35,908.88 805.76,909.47 804.35,910.18 803.14,911.01 802.14,911.95 801.35,913 743.5,1006.7 742.63,1008.37 741.98,1010.16 741.54,1012.05 741.33,1014.03 741.34,1016.09 741.58,1018.22 742.03,1020.4 742.7,1022.63 743.59,1024.88 744.69,1027.14 745.99,1029.4 747.48,1031.65 749.16,1033.87 751.02,1036.05 753.03,1038.17 755.2,1040.22 757.51,1042.19 759.93,1044.07 762.47,1045.84 765.1,1047.5 767.81,1049.03 770.57,1050.42 773.38,1051.67 776.21,1052.77 779.06,1053.71 781.89,1054.48 784.69,1055.09 787.45,1055.52 790.15,1055.77 792.77,1055.85 795.3,1055.75 797.72,1055.47 800.01,1055.02 802.16,1054.39 804.17,1053.6 806,1052.64 807.67,1051.52 809.14,1050.26 810.42,1048.85 811.5,1047.3" fill="#fff" stroke="none"/>
<line x1="810.53" y1="908.17" x2="754.39" y2="999.13" stroke-width="0.9"/>
<line x1="813.33" y1="907.87" x2="757.45" y2="998.5" stroke-width="0.9"/>
<line x1="818.5" y1="907.92" x2="762.97" y2="998.15" stroke-width="0.9"/>
<line x1="820.98" y1="908.14" x2="765.58" y2="998.28" stroke-width="0.9"/>
<line x1="825.73" y1="908.88" x2="770.49" y2="998.95" stroke-width="0.9"/>
<line x1="828.04" y1="909.37" x2="772.86" y2="999.46" stroke-width="0.9"/>
<line x1="832.52" y1="910.53" x2="777.39" y2="1000.75" stroke-width="0.9"/>
<line x1="834.72" y1="911.2" x2="779.6" y2="1001.53" stroke-width="0.9"/>
<line x1="839" y1="912.69" x2="783.84" y2="1003.3" stroke-width="0.9"/>
<line x1="841.11" y1="913.52" x2="785.91" y2="1004.3" stroke-width="0.9"/>
<line x1="845.2" y1="915.3" x2="789.9" y2="1006.5" stroke-width="0.9"/>
<line x1="847.22" y1="916.27" x2="791.85" y2="1007.71" stroke-width="0.9"/>
<line x1="851.14" y1="918.33" x2="795.59" y2="1010.31" stroke-width="0.9"/>
<line x1="853.07" y1="919.44" x2="797.41" y2="1011.73" stroke-width="0.9"/>
<line x1="856.81" y1="921.79" x2="800.88" y2="1014.77" stroke-width="0.9"/>
<line x1="858.64" y1="923.06" x2="802.56" y2="1016.43" stroke-width="0.9"/>
<line x1="862.15" y1="925.77" x2="805.72" y2="1019.99" stroke-width="0.9"/>
<line x1="863.86" y1="927.25" x2="807.22" y2="1021.94" stroke-width="0.9"/>
<line x1="867.08" y1="930.44" x2="809.96" y2="1026.21" stroke-width="0.9"/>
<line x1="868.59" y1="932.23" x2="811.18" y2="1028.61" stroke-width="0.9"/>
<line x1="871.24" y1="936.32" x2="813.11" y2="1034.2" stroke-width="0.9"/>
<line x1="872.27" y1="938.88" x2="813.65" y2="1037.75" stroke-width="0.9"/>
<line x1="871.65" y1="945.6" x2="811.5" y2="1047.3" stroke-width="1.1"/>
<line x1="801.35" y1="913" x2="743.5" y2="1006.7" stroke-width="1.1"/>
<polyline points="871.65,945.6 872.04,945.54 872.41,945.47 872.77,945.4 873.1,945.3 873.4,945.19 873.67,945.06 873.89,944.92 874.07,944.75 874.2,944.56 874.28,944.35 874.31,944.12 874.29,943.87 874.22,943.6 874.11,943.32 873.95,943.02 873.75,942.72 873.53,942.4 873.27,942.08 872.99,941.75 872.7,941.42 872.97,941.28 873.23,941.13 873.47,940.97 873.68,940.8 873.86,940.62 874,940.42 874.09,940.21 874.14,939.99 874.14,939.74 874.09,939.49 873.99,939.22 873.84,938.93 873.65,938.64 873.41,938.34 873.12,938.02 872.81,937.71 872.46,937.39 872.08,937.06 871.69,936.74 871.29,936.42 871.43,936.2 871.55,935.98 871.65,935.76 871.72,935.52 871.76,935.28 871.77,935.03 871.73,934.76 871.65,934.49 871.52,934.22 871.34,933.93 871.12,933.64 870.85,933.34 870.54,933.04 870.19,932.74 869.8,932.43 869.38,932.13 868.94,931.82 868.47,931.52 867.99,931.22 867.51,930.93 867.5,930.66 867.48,930.38 867.44,930.1 867.37,929.82 867.27,929.53 867.13,929.24 866.96,928.94 866.76,928.65 866.51,928.35 866.22,928.06 865.88,927.76 865.52,927.47 865.11,927.18 864.67,926.9 864.21,926.62 863.72,926.35 863.21,926.09 862.68,925.83 862.15,925.57 861.61,925.33 861.46,925.02 861.3,924.7 861.11,924.39 860.91,924.08 860.67,923.76 860.41,923.45 860.12,923.15 859.8,922.85 859.45,922.55 859.06,922.27 858.65,921.99 858.2,921.73 857.73,921.47 857.24,921.23 856.73,921 856.2,920.78 855.66,920.57 855.11,920.37 854.55,920.18 854,920 853.72,919.67 853.42,919.34 853.11,919.01 852.78,918.69 852.43,918.38 852.07,918.07 851.67,917.77 851.26,917.49 850.83,917.22 850.37,916.96 849.9,916.72 849.41,916.5 848.91,916.3 848.39,916.11 847.87,915.94 847.34,915.79 846.8,915.65 846.27,915.52 845.73,915.41 845.2,915.3 844.8,914.98 844.4,914.66 843.98,914.34 843.55,914.03 843.11,913.73 842.65,913.45 842.19,913.18 841.71,912.93 841.23,912.7 840.74,912.49 840.24,912.31 839.74,912.14 839.24,912 838.74,911.89 838.23,911.79 837.74,911.71 837.24,911.66 836.76,911.61 836.28,911.58 835.81,911.56 835.32,911.26 834.83,910.97 834.34,910.68 833.84,910.41 833.33,910.15 832.82,909.91 832.32,909.69 831.81,909.49 831.31,909.32 830.82,909.17 830.33,909.05 829.85,908.96 829.38,908.89 828.93,908.85 828.48,908.84 828.05,908.84 827.64,908.87 827.23,908.91 826.84,908.96 826.46,909.03 825.92,908.77 825.38,908.53 824.84,908.3 824.3,908.08 823.77,907.87 823.25,907.69 822.73,907.53 822.23,907.4 821.75,907.29 821.28,907.22 820.83,907.17 820.41,907.16 820.01,907.17 819.63,907.21 819.28,907.27 818.94,907.36 818.63,907.47 818.34,907.59 818.06,907.73 817.8,907.87 817.24,907.69 816.69,907.51 816.14,907.34 815.6,907.19 815.08,907.05 814.57,906.94 814.08,906.86 813.62,906.8 813.19,906.77 812.78,906.77 812.41,906.8 812.07,906.87 811.76,906.96 811.49,907.07 811.24,907.21 811.03,907.38 810.85,907.56 810.68,907.76 810.54,907.97 810.41,908.18 809.88,908.07 809.35,907.97 808.83,907.88 808.33,907.81 807.84,907.75 807.39,907.72 806.96,907.72 806.57,907.74 806.21,907.78 805.9,907.86 805.62,907.97 805.39,908.1 805.2,908.26 805.05,908.45 804.93,908.66 804.86,908.89 804.81,909.13 804.79,909.39 804.79,909.66 804.8,909.93 804.32,909.9 803.86,909.89 803.4,909.88 802.97,909.89 802.56,909.92 802.19,909.97 801.85,910.04 801.56,910.14 801.31,910.26 801.1,910.41 800.94,910.59 800.83,910.79 800.77,911.01 800.75,911.25 800.77,911.51 800.84,911.79 800.93,912.08 801.05,912.38 801.19,912.69 801.35,913" stroke-width="1.1"/>
<polyline points="811.5,1047.3 812.37,1045.63 813.02,1043.84 813.46,1041.95 813.67,1039.97 813.66,1037.91 813.42,1035.78 812.97,1033.6 812.3,1031.37 811.41,1029.12 810.31,1026.86 809.01,1024.6 807.52,1022.35 805.84,1020.13 803.98,1017.95 801.97,1015.83 799.8,1013.78 797.49,1011.81 795.07,1009.93 792.53,1008.16 789.9,1006.5 787.19,1004.97 784.43,1003.58 781.62,1002.33 778.79,1001.23 775.94,1000.29 773.11,999.52 770.31,998.91 767.55,998.48 764.85,998.23 762.23,998.15 759.7,998.25 757.28,998.53 754.99,998.98 752.84,999.61 750.83,1000.4 749,1001.36 747.33,1002.48 745.86,1003.74 744.58,1005.15 743.5,1006.7" stroke-width="1.1"/>
<polyline points="743.5,1006.7 742.63,1008.37 741.98,1010.16 741.54,1012.05 741.33,1014.03 741.34,1016.09 741.58,1018.22 742.03,1020.4 742.7,1022.63 743.59,1024.88 744.69,1027.14 745.99,1029.4 747.48,1031.65 749.16,1033.87 751.02,1036.05 753.03,1038.17 755.2,1040.22 757.51,1042.19 759.93,1044.07 762.47,1045.84 765.1,1047.5 767.81,1049.03 770.57,1050.42 773.38,1051.67 776.21,1052.77 779.06,1053.71 781.89,1054.48 784.69,1055.09 787.45,1055.52 790.15,1055.77 792.77,1055.85 795.3,1055.75 797.72,1055.47 800.01,1055.02 802.16,1054.39 804.17,1053.6 806,1052.64 807.67,1051.52 809.14,1050.26 810.42,1048.85 811.5,1047.3" stroke-width="1.2"/>
<polygon points="811.5,1047.3 812.2,1047.22 812.86,1047.11 813.45,1046.95 813.94,1046.72 814.31,1046.42 814.54,1046.04 814.63,1045.59 814.58,1045.07 814.4,1044.5 814.12,1043.88 813.75,1043.24 813.34,1042.59 813.93,1042.38 814.48,1042.14 814.95,1041.86 815.32,1041.52 815.56,1041.13 815.66,1040.69 815.61,1040.19 815.41,1039.64 815.09,1039.06 814.66,1038.45 814.16,1037.83 813.6,1037.21 814.07,1036.87 814.48,1036.51 814.82,1036.12 815.05,1035.69 815.15,1035.23 815.11,1034.73 814.92,1034.21 814.59,1033.65 814.14,1033.09 813.59,1032.51 812.96,1031.94 812.3,1031.37 812.61,1030.93 812.87,1030.47 813.06,1029.99 813.14,1029.49 813.09,1028.97 812.91,1028.44 812.59,1027.91 812.15,1027.38 811.59,1026.85 810.93,1026.34 810.22,1025.84 809.47,1025.35 809.62,1024.82 809.72,1024.27 809.74,1023.72 809.67,1023.17 809.48,1022.62 809.17,1022.09 808.73,1021.58 808.19,1021.09 807.54,1020.62 806.82,1020.19 806.04,1019.78 805.24,1019.4 805.22,1018.8 805.15,1018.19 805.01,1017.6 804.79,1017.02 804.47,1016.47 804.04,1015.95 803.51,1015.48 802.89,1015.05 802.18,1014.68 801.42,1014.34 800.62,1014.04 799.8,1013.78 799.61,1013.14 799.38,1012.5 799.09,1011.89 798.72,1011.31 798.28,1010.77 797.75,1010.3 797.15,1009.89 796.48,1009.54 795.75,1009.26 794.98,1009.04 794.19,1008.87 793.39,1008.73 793.03,1008.08 792.65,1007.44 792.21,1006.84 791.73,1006.28 791.18,1005.79 790.58,1005.37 789.93,1005.04 789.24,1004.79 788.52,1004.63 787.77,1004.53 787.02,1004.49 786.28,1004.49 785.78,1003.85 785.25,1003.24 784.7,1002.67 784.11,1002.16 783.49,1001.73 782.84,1001.39 782.17,1001.16 781.49,1001.02 780.8,1000.97 780.12,1001 779.44,1001.1 778.79,1001.23 778.16,1000.64 777.52,1000.07 776.87,999.56 776.2,999.12 775.53,998.77 774.86,998.53 774.2,998.4 773.56,998.37 772.94,998.45 772.35,998.61 771.78,998.83 771.24,999.1 770.52,998.57 769.79,998.08 769.07,997.65 768.35,997.3 767.66,997.05 767,996.91 766.38,996.89 765.81,996.98 765.28,997.18 764.8,997.46 764.37,997.8 763.96,998.18 763.18,997.75 762.4,997.36 761.63,997.03 760.9,996.78 760.22,996.64 759.6,996.61 759.04,996.7 758.56,996.9 758.16,997.21 757.81,997.6 757.53,998.04 757.28,998.53 756.47,998.21 755.66,997.93 754.89,997.71 754.18,997.58 753.53,997.56 752.98,997.64 752.51,997.84 752.15,998.14 751.88,998.54 751.69,999.02 751.56,999.55 751.48,1000.12 750.67,999.92 749.88,999.77 749.14,999.68 748.47,999.67 747.9,999.76 747.43,999.95 747.08,1000.24 746.84,1000.64 746.72,1001.12 746.69,1001.67 746.73,1002.26 746.82,1002.88 746.05,1002.82 745.31,1002.8 744.63,1002.84 744.04,1002.95 743.55,1003.15 743.19,1003.44 742.97,1003.82 742.87,1004.29 742.9,1004.82 743.03,1005.42 743.24,1006.05 743.5,1006.7 742.8,1006.78 742.14,1006.89 741.55,1007.05 741.06,1007.28 740.69,1007.58 740.46,1007.96 740.37,1008.41 740.42,1008.93 740.6,1009.5 740.88,1010.12 741.25,1010.76 741.66,1011.41 741.07,1011.62 740.52,1011.86 740.05,1012.14 739.68,1012.48 739.44,1012.87 739.34,1013.31 739.39,1013.81 739.59,1014.36 739.91,1014.94 740.34,1015.55 740.84,1016.17 741.4,1016.79 740.93,1017.13 740.52,1017.49 740.18,1017.88 739.95,1018.31 739.85,1018.77 739.89,1019.27 740.08,1019.79 740.41,1020.35 740.86,1020.91 741.41,1021.49 742.04,1022.06 742.7,1022.63 742.39,1023.07 742.13,1023.53 741.94,1024.01 741.86,1024.51 741.91,1025.03 742.09,1025.56 742.41,1026.09 742.85,1026.62 743.41,1027.15 744.07,1027.66 744.78,1028.16 745.53,1028.65 745.38,1029.18 745.28,1029.73 745.26,1030.28 745.33,1030.83 745.52,1031.38 745.83,1031.91 746.27,1032.42 746.81,1032.91 747.46,1033.38 748.18,1033.81 748.96,1034.22 749.76,1034.6 749.78,1035.2 749.85,1035.81 749.99,1036.4 750.21,1036.98 750.53,1037.53 750.96,1038.05 751.49,1038.52 752.11,1038.95 752.82,1039.32 753.58,1039.66 754.38,1039.96 755.2,1040.22 755.39,1040.86 755.62,1041.5 755.91,1042.11 756.28,1042.69 756.72,1043.23 757.25,1043.7 757.85,1044.11 758.52,1044.46 759.25,1044.74 760.02,1044.96 760.81,1045.13 761.61,1045.27 761.97,1045.92 762.35,1046.56 762.79,1047.16 763.27,1047.72 763.82,1048.21 764.42,1048.63 765.07,1048.96 765.76,1049.21 766.48,1049.37 767.23,1049.47 767.98,1049.51 768.72,1049.51 769.22,1050.15 769.75,1050.76 770.3,1051.33 770.89,1051.84 771.51,1052.27 772.16,1052.61 772.83,1052.84 773.51,1052.98 774.2,1053.03 774.88,1053 775.56,1052.9 776.21,1052.77 776.84,1053.36 777.48,1053.93 778.13,1054.44 778.8,1054.88 779.47,1055.23 780.14,1055.47 780.8,1055.6 781.44,1055.63 782.06,1055.55 782.65,1055.39 783.22,1055.17 783.76,1054.9 784.48,1055.43 785.21,1055.92 785.93,1056.35 786.65,1056.7 787.34,1056.95 788,1057.09 788.62,1057.11 789.19,1057.02 789.72,1056.82 790.2,1056.54 790.63,1056.2 791.04,1055.82 791.82,1056.25 792.6,1056.64 793.37,1056.97 794.1,1057.22 794.78,1057.36 795.4,1057.39 795.96,1057.3 796.44,1057.1 796.84,1056.79 797.19,1056.4 797.47,1055.96 797.72,1055.47 798.53,1055.79 799.34,1056.07 800.11,1056.29 800.82,1056.42 801.47,1056.44 802.02,1056.36 802.49,1056.16 802.85,1055.86 803.12,1055.46 803.31,1054.98 803.44,1054.45 803.52,1053.88 804.33,1054.08 805.12,1054.23 805.86,1054.32 806.53,1054.33 807.1,1054.24 807.57,1054.05 807.92,1053.76 808.16,1053.36 808.28,1052.88 808.31,1052.33 808.27,1051.74 808.18,1051.12 808.95,1051.18 809.69,1051.2 810.37,1051.16 810.96,1051.05 811.45,1050.85 811.81,1050.56 812.03,1050.18 812.13,1049.71 812.1,1049.18 811.97,1048.58 811.76,1047.95 811.5,1047.3" fill="#fff" stroke-width="1.1"/>
<polygon points="808.1,1045.27 809.06,1043.31 809.67,1041.16 809.94,1038.86 809.84,1036.44 809.39,1033.9 808.6,1031.3 807.46,1028.64 805.99,1025.97 804.21,1023.31 802.14,1020.69 799.8,1018.14 797.22,1015.68 794.41,1013.35 791.43,1011.17 788.29,1009.16 785.03,1007.35 781.69,1005.76 778.3,1004.39 774.91,1003.28 771.54,1002.42 768.24,1001.83 765.04,1001.52 761.98,1001.49 759.09,1001.74 756.39,1002.26 753.93,1003.06 751.73,1004.11 749.81,1005.42 748.2,1006.97 746.9,1008.73 745.94,1010.69 745.33,1012.84 745.06,1015.14 745.16,1017.56 745.61,1020.1 746.4,1022.7 747.54,1025.36 749.01,1028.03 750.79,1030.69 752.86,1033.31 755.2,1035.86 757.78,1038.32 760.59,1040.65 763.57,1042.83 766.71,1044.84 769.97,1046.65 773.31,1048.24 776.7,1049.61 780.09,1050.72 783.46,1051.58 786.76,1052.17 789.96,1052.48 793.02,1052.51 795.91,1052.26 798.61,1051.74 801.07,1050.94 803.27,1049.89 805.19,1048.58 806.8,1047.03 808.1,1045.27" stroke-width="1"/>
<line x1="883" y1="884.8" x2="897" y2="884.8" stroke-width="2"/>
<path d="M889.8,885 L890.2,903 L894.6,1022.5"/>
<rect x="940" y="882.5" width="18" height="10.5" fill="#fff"/>
<line x1="943" y1="882.5" x2="943" y2="893"/>
<line x1="953" y1="882.5" x2="953" y2="893"/>
<rect x="938.5" y="893" width="21" height="45" fill="#fff"/>
<polygon points="928,967.2 927.89,966.9 927.95,966.42 928.19,965.76 928.61,964.93 929.21,963.92 929.97,962.75 930.91,961.42 932,959.94 933.25,958.32 934.64,956.57 936.17,954.71 937.83,952.73 939.61,950.66 941.49,948.5 943.47,946.28 945.53,944 947.66,941.68 949.85,939.33 952.09,936.96 954.35,934.6 956.63,932.25 958.91,929.94 961.18,927.67 963.42,925.46 965.63,923.32 967.78,921.26 969.86,919.31 971.86,917.46 973.77,915.74 975.58,914.15 977.28,912.7 978.84,911.4 980.28,910.26 981.56,909.29 982.7,908.49 983.68,907.86 984.49,907.42 985.14,907.16 985.61,907.09 985.9,907.2 1081,999.7 1081.16,1000.04 1081.15,1000.57 1080.95,1001.28 1080.58,1002.17 1080.04,1003.23 1079.32,1004.45 1078.44,1005.83 1077.4,1007.36 1076.2,1009.03 1074.86,1010.82 1073.37,1012.74 1071.76,1014.76 1070.02,1016.87 1068.18,1019.07 1066.24,1021.33 1064.21,1023.65 1062.11,1026 1059.95,1028.38 1057.74,1030.77 1055.5,1033.15 1053.24,1035.51 1050.97,1037.84 1048.71,1040.12 1046.47,1042.34 1044.27,1044.48 1042.12,1046.53 1040.03,1048.48 1038.02,1050.32 1036.09,1052.03 1034.27,1053.6 1032.55,1055.03 1030.96,1056.3 1029.5,1057.41 1028.18,1058.36 1027.01,1059.12 1025.99,1059.71 1025.14,1060.11 1024.45,1060.33 1023.94,1060.36 1023.6,1060.2" fill="#fff" stroke="none"/>
<line x1="980.88" y1="909.8" x2="1075.72" y2="1002.03" stroke-width="0.9"/>
<line x1="979.11" y1="911.19" x2="1073.91" y2="1003.39" stroke-width="0.9"/>
<line x1="975.75" y1="914" x2="1070.5" y2="1006.15" stroke-width="0.9"/>
<line x1="974.07" y1="915.48" x2="1068.8" y2="1007.61" stroke-width="0.9"/>
<line x1="970.83" y1="918.41" x2="1065.54" y2="1010.52" stroke-width="0.9"/>
<line x1="969.19" y1="919.93" x2="1063.89" y2="1012.04" stroke-width="0.9"/>
<line x1="966.02" y1="922.94" x2="1060.72" y2="1015.04" stroke-width="0.9"/>
<line x1="964.41" y1="924.49" x2="1059.11" y2="1016.59" stroke-width="0.9"/>
<line x1="961.3" y1="927.55" x2="1056.01" y2="1019.66" stroke-width="0.9"/>
<line x1="959.72" y1="929.13" x2="1054.43" y2="1021.24" stroke-width="0.9"/>
<line x1="956.65" y1="932.23" x2="1051.38" y2="1024.37" stroke-width="0.9"/>
<line x1="955.09" y1="933.84" x2="1049.83" y2="1025.98" stroke-width="0.9"/>
<line x1="952.07" y1="936.98" x2="1046.84" y2="1029.15" stroke-width="0.9"/>
<line x1="950.53" y1="938.61" x2="1045.32" y2="1030.8" stroke-width="0.9"/>
<line x1="947.55" y1="941.8" x2="1042.38" y2="1034.03" stroke-width="0.9"/>
<line x1="946.03" y1="943.45" x2="1040.88" y2="1035.7" stroke-width="0.9"/>
<line x1="943.1" y1="946.69" x2="1038" y2="1038.99" stroke-width="0.9"/>
<line x1="941.61" y1="948.36" x2="1036.54" y2="1040.69" stroke-width="0.9"/>
<line x1="938.74" y1="951.66" x2="1033.73" y2="1044.05" stroke-width="0.9"/>
<line x1="937.29" y1="953.37" x2="1032.31" y2="1045.8" stroke-width="0.9"/>
<line x1="934.5" y1="956.75" x2="1029.61" y2="1049.26" stroke-width="0.9"/>
<line x1="933.1" y1="958.51" x2="1028.25" y2="1051.07" stroke-width="0.9"/>
<line x1="930.46" y1="962.05" x2="1025.73" y2="1054.72" stroke-width="0.9"/>
<line x1="929.19" y1="963.94" x2="1024.55" y2="1056.7" stroke-width="0.9"/>
<line x1="928" y1="967.2" x2="1023.6" y2="1060.2" stroke-width="1.1"/>
<line x1="985.9" y1="907.2" x2="1081" y2="999.7" stroke-width="1.1"/>
<polyline points="928,967.2 927.74,967.4 927.49,967.58 927.26,967.75 927.05,967.9 926.86,968.02 926.71,968.11 926.59,968.16 926.5,968.17 926.46,968.14 926.46,968.07 926.49,967.96 926.57,967.81 926.69,967.62 926.84,967.4 927.03,967.14 927.24,966.85 927.49,966.54 927.75,966.21 928.03,965.86 928.31,965.5 928.16,965.59 928.01,965.66 927.89,965.71 927.78,965.74 927.7,965.75 927.65,965.72 927.64,965.66 927.66,965.56 927.72,965.43 927.82,965.26 927.96,965.05 928.14,964.8 928.35,964.52 928.6,964.21 928.88,963.87 929.18,963.5 929.51,963.11 929.86,962.71 930.21,962.3 930.58,961.88 930.54,961.84 930.51,961.79 930.49,961.73 930.5,961.64 930.53,961.53 930.59,961.39 930.69,961.22 930.81,961.02 930.98,960.79 931.17,960.53 931.4,960.23 931.67,959.91 931.96,959.56 932.29,959.18 932.64,958.78 933.01,958.36 933.4,957.92 933.81,957.48 934.22,957.03 934.64,956.57 934.71,956.42 934.8,956.25 934.9,956.07 935.02,955.87 935.16,955.66 935.33,955.41 935.53,955.15 935.75,954.86 936,954.55 936.28,954.21 936.59,953.85 936.92,953.47 937.28,953.07 937.66,952.65 938.06,952.22 938.47,951.77 938.9,951.32 939.34,950.87 939.78,950.41 940.22,949.95 940.41,949.69 940.6,949.42 940.81,949.13 941.04,948.84 941.28,948.52 941.54,948.2 941.82,947.85 942.13,947.49 942.45,947.12 942.8,946.73 943.16,946.33 943.54,945.92 943.94,945.5 944.35,945.07 944.77,944.64 945.2,944.2 945.63,943.76 946.07,943.32 946.51,942.88 946.95,942.45 947.23,942.1 947.52,941.74 947.82,941.38 948.14,941 948.46,940.62 948.8,940.23 949.15,939.83 949.52,939.43 949.89,939.02 950.28,938.6 950.67,938.19 951.07,937.78 951.48,937.36 951.89,936.95 952.3,936.55 952.72,936.14 953.13,935.75 953.54,935.36 953.95,934.98 954.35,934.6 954.71,934.18 955.08,933.76 955.46,933.34 955.84,932.91 956.22,932.48 956.62,932.05 957.01,931.63 957.41,931.21 957.81,930.79 958.21,930.38 958.61,929.98 959,929.59 959.39,929.22 959.78,928.85 960.16,928.5 960.53,928.16 960.89,927.84 961.25,927.52 961.59,927.22 961.93,926.92 962.35,926.47 962.77,926.02 963.19,925.56 963.61,925.11 964.04,924.67 964.45,924.23 964.87,923.81 965.28,923.39 965.67,923 966.06,922.62 966.44,922.27 966.8,921.93 967.14,921.61 967.48,921.32 967.79,921.05 968.09,920.8 968.38,920.56 968.66,920.34 968.92,920.14 969.17,919.95 969.62,919.49 970.06,919.03 970.5,918.58 970.94,918.14 971.36,917.71 971.78,917.29 972.18,916.9 972.57,916.52 972.94,916.18 973.29,915.86 973.62,915.57 973.92,915.31 974.2,915.07 974.46,914.87 974.69,914.7 974.9,914.55 975.09,914.42 975.27,914.32 975.43,914.23 975.58,914.15 976.02,913.71 976.46,913.29 976.89,912.87 977.31,912.46 977.71,912.07 978.1,911.71 978.46,911.37 978.8,911.06 979.12,910.79 979.4,910.55 979.66,910.34 979.88,910.17 980.08,910.04 980.24,909.94 980.38,909.88 980.49,909.84 980.57,909.83 980.64,909.85 980.68,909.88 980.72,909.92 981.13,909.54 981.53,909.17 981.91,908.81 982.29,908.47 982.64,908.15 982.97,907.86 983.27,907.6 983.55,907.38 983.79,907.2 983.99,907.05 984.16,906.95 984.29,906.88 984.38,906.86 984.44,906.87 984.47,906.92 984.47,907 984.44,907.11 984.39,907.24 984.32,907.39 984.24,907.55 984.58,907.25 984.92,906.96 985.24,906.69 985.54,906.44 985.82,906.21 986.07,906.02 986.29,905.86 986.48,905.73 986.62,905.65 986.73,905.61 986.8,905.62 986.83,905.66 986.81,905.75 986.77,905.87 986.68,906.03 986.57,906.22 986.43,906.44 986.27,906.68 986.09,906.93 985.9,907.2" stroke-width="1.1"/>
<polyline points="1023.6,1060.2 1023.44,1059.86 1023.45,1059.33 1023.65,1058.62 1024.02,1057.73 1024.56,1056.67 1025.28,1055.45 1026.16,1054.07 1027.2,1052.54 1028.4,1050.87 1029.74,1049.08 1031.23,1047.16 1032.84,1045.14 1034.58,1043.03 1036.42,1040.83 1038.36,1038.57 1040.39,1036.25 1042.49,1033.9 1044.65,1031.52 1046.86,1029.13 1049.1,1026.75 1051.36,1024.39 1053.63,1022.06 1055.89,1019.78 1058.13,1017.56 1060.33,1015.42 1062.48,1013.37 1064.57,1011.42 1066.58,1009.58 1068.51,1007.87 1070.33,1006.3 1072.05,1004.87 1073.64,1003.6 1075.1,1002.49 1076.42,1001.54 1077.59,1000.78 1078.61,1000.19 1079.46,999.79 1080.15,999.57 1080.66,999.54 1081,999.7" stroke-width="1.1"/>
<polyline points="1081,999.7 1081.16,1000.04 1081.15,1000.57 1080.95,1001.28 1080.58,1002.17 1080.04,1003.23 1079.32,1004.45 1078.44,1005.83 1077.4,1007.36 1076.2,1009.03 1074.86,1010.82 1073.37,1012.74 1071.76,1014.76 1070.02,1016.87 1068.18,1019.07 1066.24,1021.33 1064.21,1023.65 1062.11,1026 1059.95,1028.38 1057.74,1030.77 1055.5,1033.15 1053.24,1035.51 1050.97,1037.84 1048.71,1040.12 1046.47,1042.34 1044.27,1044.48 1042.12,1046.53 1040.03,1048.48 1038.02,1050.32 1036.09,1052.03 1034.27,1053.6 1032.55,1055.03 1030.96,1056.3 1029.5,1057.41 1028.18,1058.36 1027.01,1059.12 1025.99,1059.71 1025.14,1060.11 1024.45,1060.33 1023.94,1060.36 1023.6,1060.2" stroke-width="1.2"/>
<polyline points="1023.6,1060.2 1024.09,1060.51 1024.75,1060.63 1025.59,1060.56 1026.59,1060.3 1027.74,1059.86 1029.05,1059.23 1030.5,1058.42 1032.09,1057.43 1033.8,1056.28 1035.63,1054.96 1037.55,1053.49 1039.57,1051.87 1041.67,1050.12 1043.83,1048.25 1046.05,1046.26 1048.3,1044.17 1050.58,1041.99 1052.87,1039.74 1055.15,1037.43 1057.42,1035.07 1059.66,1032.68 1061.85,1030.27 1063.98,1027.87 1066.04,1025.47 1068.01,1023.1 1069.89,1020.78 1071.66,1018.51 1073.31,1016.31 1074.83,1014.2 1076.21,1012.18 1077.45,1010.27 1078.53,1008.49 1079.45,1006.83 1080.2,1005.32 1080.77,1003.96 1081.18,1002.76 1081.4,1001.73 1081.45,1000.87 1081.31,1000.19 1081,999.7" stroke-width="1.3"/>
</g>
<g fill="none" stroke="#000" stroke-width="1">
<path d="M887.5,1030 Q888,1027 893,1027 Q899,1027 899.3,1030 L899.3,1046.5 L887.5,1046.5 Z" fill="#000"/>
<path d="M880,1049 Q880,1046.3 884,1046.3 L902.5,1046.3 Q906.4,1046.3 906.4,1049 L906.4,1058 Q906.4,1061 903,1061.3 L883,1061.3 Q879.2,1061 879.2,1058 Z" fill="#fff"/>
<path d="M881,1059.5 Q881,1064 893,1064 Q905,1064 905,1059.5"/>
<line x1="881" y1="1058.8" x2="905" y2="1058.8"/>
<line x1="901.7" y1="1042.7" x2="917" y2="1060"/>
<line x1="917" y1="1060" x2="936.6" y2="1082.5"/>
<line x1="895.7" y1="1106" x2="895.9" y2="1145"/>
<line x1="896.4" y1="1146" x2="896.4" y2="1186"/>
<polygon points="895.7,1090.3 890.4,1106.2 899.7,1106.2" fill="#fff"/>
<path d="M889.8,1134.4 C875,1137 866,1143 868,1150 C870,1158 882,1162.5 896.8,1162.5 C908,1162.5 918,1158 923.3,1153.5"/>
<polygon points="923.5,1150.8 927.5,1149 927.2,1154" fill="#fff"/>
</g>
</svg>
</body></html>
